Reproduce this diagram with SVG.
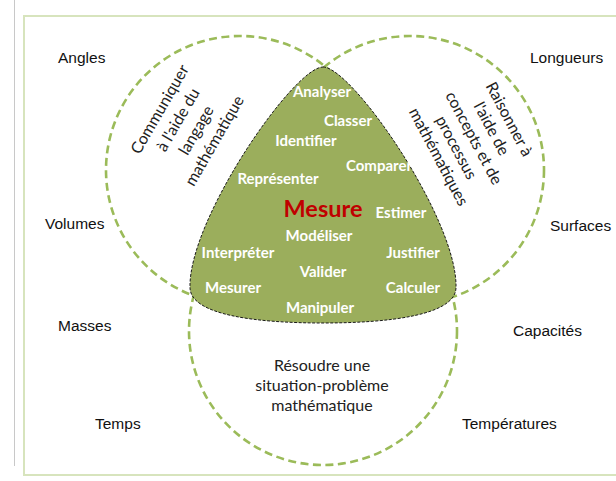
<svg xmlns="http://www.w3.org/2000/svg" width="616" height="481" viewBox="0 0 616 481">
<style>
.ring{fill:none;stroke:#9bbb59;stroke-width:2.6;stroke-dasharray:8 4.5}
.outer{font-family:"Liberation Sans",Arial,sans-serif;font-size:15.5px;fill:#111}
.verb{font-family:Lato,"Open Sans",sans-serif;font-weight:bold;font-size:15px;fill:#fff;text-anchor:middle}
.goal{font-family:Lato,"Open Sans",sans-serif;font-size:16px;fill:#222;text-anchor:middle}
</style>
<rect x="0" y="0" width="616" height="481" fill="#fff"/>
<line x1="14.5" y1="0" x2="14.5" y2="466" stroke="#c8c8c8" stroke-width="1"/>
<rect x="24" y="16" width="620" height="459" fill="none" stroke="#d7e4bd" stroke-width="2"/>
<g id="circles">
<circle id="circle-left" class="ring" cx="240" cy="170" r="134"/>
<circle id="circle-right" class="ring" cx="410" cy="170" r="134"/>
<circle id="circle-bottom" class="ring" cx="323" cy="331" r="134"/>
</g>
<g id="mesure-core">
<path d="M 323,67 C 352,67 458,220 456,288 C 455,315 390,323 323,323 C 256,323 191,315 190,288 C 188,220 294,67 323,67 Z" fill="#9bae5c" stroke="#1a1a1a" stroke-width="1" stroke-dasharray="3 1.5"/>
<text class="verb" x="322" y="97">Analyser</text>
<text class="verb" x="348" y="126">Classer</text>
<text class="verb" x="306" y="146">Identifier</text>
<text class="verb" x="379" y="171">Comparer</text>
<text class="verb" x="278" y="184">Représenter</text>
<text x="323" y="216.5" font-family="Lato,'Open Sans',sans-serif" font-weight="bold" font-size="23.5" fill="#c00000" text-anchor="middle">Mesure</text>
<text class="verb" x="401" y="218">Estimer</text>
<text class="verb" x="319" y="241">Modéliser</text>
<text class="verb" x="238" y="258">Interpréter</text>
<text class="verb" x="413" y="258">Justifier</text>
<text class="verb" x="323" y="277">Valider</text>
<text class="verb" x="233" y="293">Mesurer</text>
<text class="verb" x="413" y="293">Calculer</text>
<text class="verb" x="320" y="313">Manipuler</text>
</g>
<g id="goal-communiquer" transform="translate(187,125) rotate(-60)">
<text class="goal" x="0" y="-26">Communiquer</text>
<text class="goal" x="0" y="-5">à l'aide du</text>
<text class="goal" x="0" y="16">langage</text>
<text class="goal" x="0" y="37">mathématique</text>
</g>
<g id="goal-raisonner" transform="translate(474,138) rotate(62)">
<text class="goal" x="0" y="-34.5">Raisonner à</text>
<text class="goal" x="0" y="-14.5">l'aide de</text>
<text class="goal" x="0" y="5.5">concepts et de</text>
<text class="goal" x="0" y="25.5">processus</text>
<text class="goal" x="0" y="45.5">mathématiques</text>
</g>
<g id="goal-resoudre">
<text class="goal" font-size="15.5" x="322" y="371">Résoudre une</text>
<text class="goal" font-size="15.5" x="322" y="391">situation-problème</text>
<text class="goal" font-size="15.5" x="322" y="411">mathématique</text>
</g>
<g id="quantities">
<text id="q-angles" class="outer" x="58" y="63">Angles</text>
<text id="q-longueurs" class="outer" x="530" y="63">Longueurs</text>
<text id="q-volumes" class="outer" x="45" y="229">Volumes</text>
<text id="q-surfaces" class="outer" x="550" y="231">Surfaces</text>
<text id="q-masses" class="outer" x="58" y="331">Masses</text>
<text id="q-capacites" class="outer" x="513" y="336">Capacités</text>
<text id="q-temps" class="outer" x="95" y="429">Temps</text>
<text id="q-temperatures" class="outer" x="462" y="429">Températures</text>
</g>
</svg>
